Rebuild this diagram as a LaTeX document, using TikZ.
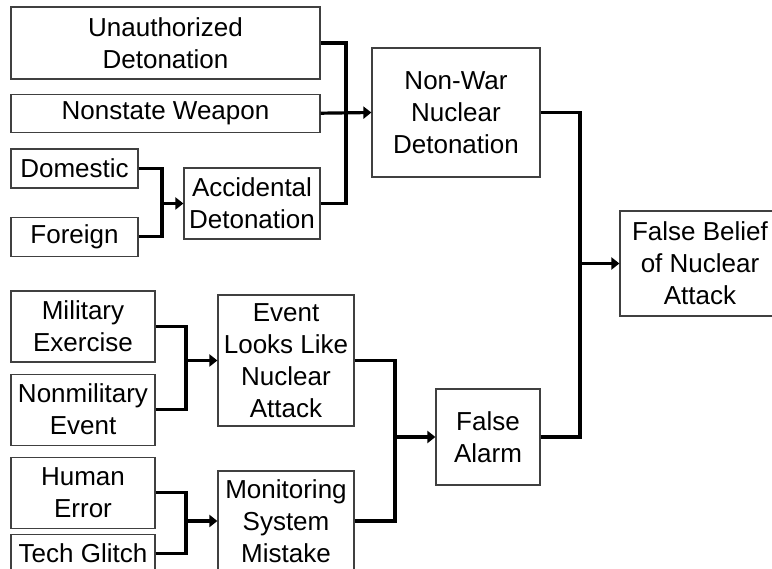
\documentclass[tikz,border=0pt]{standalone}
\usepackage{fontspec}
\setmainfont{Liberation Sans}
\usepackage{tikz}
\usetikzlibrary{arrows.meta, positioning}
\tikzstyle{box} = [rectangle, draw=black!75, line width=1.2pt, fill=white, align=center, inner sep=2pt, font=\fontsize{26}{32}\selectfont]
\tikzstyle{wire} = [line width=3.2pt, line join=miter, draw=black]
\tikzstyle{arrow} = [wire, -{Triangle[length=8pt,width=12pt]}]

\begin{document}
\begin{tikzpicture}[x=1pt, y=1pt]
    \useasboundingbox (0,0) rectangle (772,-569);
    \clip (0,0) rectangle (772,-569);
    % Nodes
    \node (unauth) [box, minimum width=309pt, minimum height=72pt] at (165.5,-43) {Unauthorized\\Detonation};
    \node (nonstate) [box, minimum width=309pt, minimum height=38pt, below=14pt of unauth] {Nonstate Weapon};
    \node (domestic) [box, minimum width=127pt, minimum height=39pt] at (74.5,-168.5) {Domestic};
    \node (foreign) [box, minimum width=127pt, minimum height=39pt, below=28pt of domestic] {Foreign};
    \node (accident) [box, minimum width=136pt, minimum height=71pt] at (252,-203.5) {Accidental\\Detonation};
    \node (nonwar) [box, minimum width=168pt, minimum height=129pt] at (456,-112.5) {Non-War\\Nuclear\\Detonation};
    \node (belief) [box, minimum width=160pt, minimum height=105pt] at (700,-263.5) {False Belief\\of Nuclear\\Attack};
    
    \node (military) [box, minimum width=144pt, minimum height=71pt] at (83,-326.5) {Military\\Exercise};
    \node (nonmil) [box, minimum width=144pt, minimum height=71pt, below=11pt of military] {Nonmilitary\\Event};
    \node (human) [box, minimum width=144pt, minimum height=71pt, below=11pt of nonmil] {Human\\Error};
    \node (glitch) [box, minimum width=144pt, minimum height=38pt, below=5pt of human] {Tech Glitch};
    \node (looks) [box, minimum width=136pt, minimum height=131pt] at (286,-360.5) {Event\\Looks Like\\Nuclear\\Attack};
    \node (monitor) [box, minimum width=136pt, minimum height=100pt] at (286,-521) {Monitoring\\System\\Mistake};
    \node (alarm) [box, minimum width=104pt, minimum height=96pt] at (488,-437) {False\\Alarm};
    
    % Junctions
    \coordinate (jnonwar) at (346,-112.5);
    \coordinate (jaccident) at (162,-203.5);
    \coordinate (jbelief) at (580,-263.5);
    \coordinate (jlooks) at (186,-360.5);
    \coordinate (jmonitor) at (186,-521);
    \coordinate (jalarm) at (395,-437);
    
    % Arrows
    \draw [wire] (unauth.east) -| (jnonwar);
    \draw [wire] (accident.east) -| (jnonwar);
    \draw [arrow] (nonstate.east) -- (nonwar.west);
    
    \draw [wire] (domestic.east) -| (jaccident);
    \draw [wire] (foreign.east) -| (jaccident);
    \draw [arrow] (jaccident) -- (accident.west);
    
    \draw [wire] (nonwar.east) -| (jbelief);
    \draw [wire] (alarm.east) -| (jbelief);
    \draw [arrow] (jbelief) -- (belief.west);
    
    \draw [wire] (military.east) -| (jlooks);
    \draw [wire] (nonmil.east) -| (jlooks);
    \draw [arrow] (jlooks) -- (looks.west);
    
    \draw [wire] (human.east) -| (jmonitor);
    \draw [wire] (glitch.east) -| (jmonitor);
    \draw [arrow] (jmonitor) -- (monitor.west);
    
    \draw [wire] (looks.east) -| (jalarm);
    \draw [wire] (monitor.east) -| (jalarm);
    \draw [arrow] (jalarm) -- (alarm.west);
\end{tikzpicture}
\end{document}
